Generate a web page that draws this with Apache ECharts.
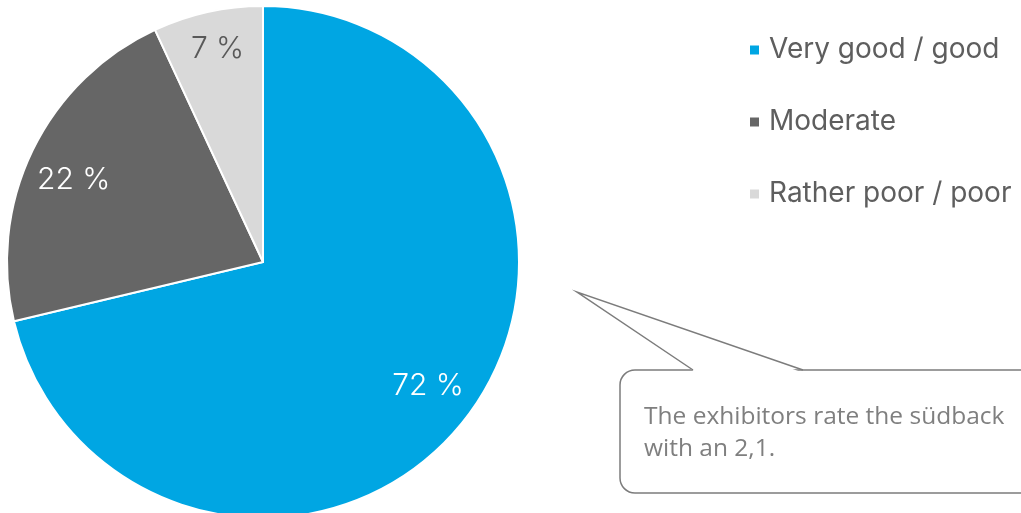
<!DOCTYPE html>
<html>
<head>
<meta charset="utf-8">
<style>
  html, body { margin: 0; padding: 0; background: #ffffff; }
  #chart { width: 1021px; height: 513px; }
</style>
<script src="https://cdn.jsdelivr.net/npm/echarts@6/dist/echarts.min.js"></script>
</head>
<body>
<div id="chart"></div>
<script>
// Rating categories and their shares (percent)
const categories = ['Very good / good', 'Moderate', 'Rather poor / poor'];
const shares = [72, 22, 7];
const colors = ['#00a6e3', '#666666', '#d9d9d9'];
const labelColors = ['#ffffff', '#ffffff', '#595959'];
const noteLines = ['The exhibitors rate the südback', 'with an 2,1.'];

const chart = echarts.init(document.getElementById('chart'), null, { renderer: 'canvas' });

const center = [263, 262];
const R = 256;
const labelNudge = [[0, -6], [0, 10], [0, -8]];

const pieData = categories.map((name, i) => ({
  name,
  value: shares[i],
  itemStyle: { color: colors[i] }
}));

const calloutStroke = '#7c7c7c';

chart.setOption({
  animation: false,
  legend: {
    orient: 'vertical',
    left: 748,
    top: 36,
    padding: 0,
    icon: 'rect',
    itemWidth: 11,
    itemHeight: 11,
    itemGap: 44,
    data: categories,
    textStyle: {
      fontFamily: 'Inter',
      fontSize: 28,
      lineHeight: 28,
      color: '#5e5e5e',
      padding: [0, 0, 0, 4]
    }
  },
  series: [
    {
      name: 'shares',
      type: 'pie',
      center: center,
      radius: [0, R],
      startAngle: 90,
      clockwise: true,
      silent: true,
      itemStyle: { borderColor: '#ffffff', borderWidth: 2 },
      label: { show: false },
      labelLine: { show: false },
      data: pieData
    },
    {
      // transparent ring used only to place the value labels further out
      name: 'labels',
      type: 'pie',
      center: center,
      radius: [R * 0.62, R],
      startAngle: 90,
      clockwise: true,
      silent: true,
      legendHoverLink: false,
      itemStyle: { color: 'rgba(0,0,0,0)', borderWidth: 0 },
      label: {
        show: true,
        position: 'inside',
        formatter: '{c} %',
        fontFamily: 'Inter',
        fontWeight: 300,
        fontSize: 30
      },
      labelLine: { show: false },
      data: categories.map((name, i) => ({
        name: name + ' ',
        value: shares[i],
        itemStyle: { color: 'rgba(0,0,0,0)' },
        label: { color: labelColors[i], offset: labelNudge[i] }
      }))
    }
  ],
  graphic: [
    {
      type: 'rect',
      shape: { x: 620, y: 370, width: 430, height: 123, r: 15 },
      style: { fill: '#ffffff', stroke: calloutStroke, lineWidth: 1.5 },
      silent: true
    },
    {
      // fill of the pointer, hides the box edge under it
      type: 'polygon',
      shape: { points: [[695, 372], [577, 292], [801, 372]] },
      style: { fill: '#ffffff' },
      silent: true
    },
    {
      type: 'polyline',
      shape: { points: [[693, 370], [577, 292], [803, 370]] },
      style: { fill: null, stroke: calloutStroke, lineWidth: 1.5 },
      silent: true
    },
    {
      type: 'text',
      x: 644,
      y: 401,
      style: {
        text: noteLines.join('\n'),
        fontFamily: 'Open Sans',
        fontSize: 24.5,
        lineHeight: 32,
        fill: '#7f7f7f'
      },
      silent: true
    }
  ]
});
</script>
</body>
</html>
